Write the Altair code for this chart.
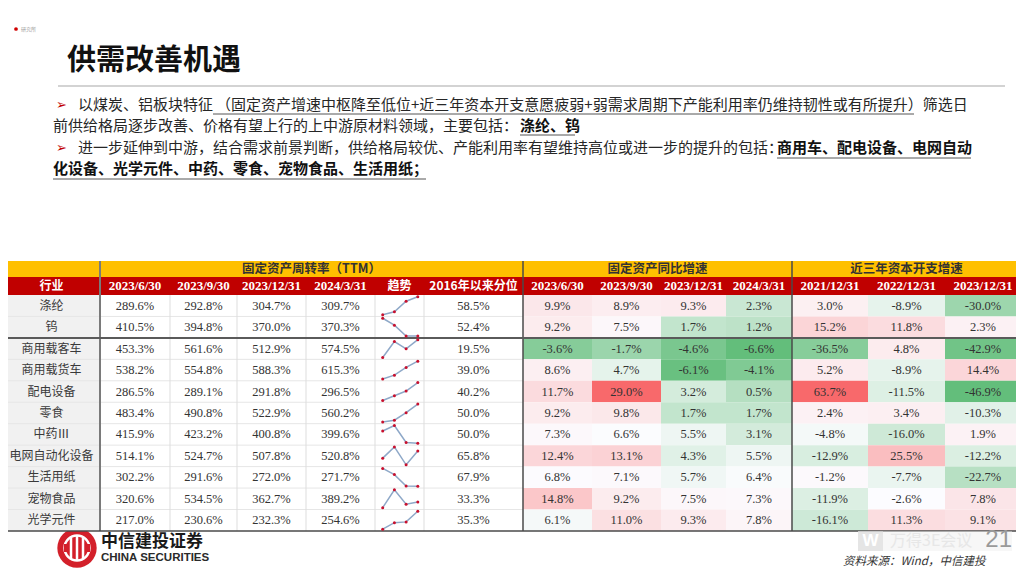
import altair as alt
import numpy as np
import pandas as pd

# ---------------- data ----------------
industries = ["涤纶", "钨", "商用载客车", "商用载货车", "配电设备", "零食",
              "中药Ⅲ", "电网自动化设备", "生活用纸", "宠物食品", "光学元件"]
turnover_dates = ["2023/6/30", "2023/9/30", "2023/12/31", "2024/3/31"]
capex_dates = ["2021/12/31", "2022/12/31", "2023/12/31"]

turnover_2023_06 = [289.6, 410.5, 453.3, 538.2, 286.5, 483.4, 415.9, 514.1, 302.2, 320.6, 217.0]
turnover_2023_09 = [292.8, 394.8, 561.6, 554.8, 289.1, 490.8, 423.2, 524.7, 291.6, 534.5, 230.6]
turnover_2023_12 = [304.7, 370.0, 512.9, 588.3, 291.8, 522.9, 400.8, 507.8, 272.0, 362.7, 232.3]
turnover_2024_03 = [309.7, 370.3, 574.5, 615.3, 296.5, 560.2, 399.6, 520.8, 271.7, 389.2, 254.6]
percentile_since_2016 = [58.5, 52.4, 19.5, 39.0, 40.2, 50.0, 50.0, 65.8, 67.9, 33.3, 35.3]

growth_2023_06 = [9.9, 9.2, -3.6, 8.6, 11.7, 9.2, 7.3, 12.4, 6.8, 14.8, 6.1]
growth_2023_09 = [8.9, 7.5, -1.7, 4.7, 29.0, 9.8, 6.6, 13.1, 7.1, 9.2, 11.0]
growth_2023_12 = [9.3, 1.7, -4.6, -6.1, 3.2, 1.7, 5.5, 4.3, 5.7, 7.5, 9.3]
growth_2024_03 = [2.3, 1.2, -6.6, -4.1, 0.5, 1.7, 3.1, 5.5, 6.4, 7.3, 7.8]

capex_2021 = [3.0, 15.2, -36.5, 5.2, 63.7, 2.4, -4.8, -12.9, -1.2, -11.9, -16.1]
capex_2022 = [-8.9, 11.8, 4.8, -8.9, -11.5, 3.4, -16.0, 25.5, -7.7, -2.6, 11.3]
capex_2023 = [-30.0, 2.3, -42.9, 14.4, -46.9, -10.3, 1.9, -12.2, -22.7, 7.8, 9.1]

title_text = "供需改善机遇"
group_titles = ["固定资产周转率（TTM）", "固定资产同比增速", "近三年资本开支增速"]
source_text = "资料来源：Wind，中信建投"

# ---------------- layout ----------------
W, H, OX, OY = 1008, 560, 8, 8
CJK = "Noto Sans CJK SC"
SERIF = "Liberation Serif"
SANS = "Liberation Sans"
RED = "#C00000"
YELLOW = "#FFC000"

COL_EDGES = [3, 100, 170, 237, 306, 375, 424, 523, 592, 661, 726, 792, 868, 945, 1021]
BAND_TOP, HEAD_TOP, BODY_TOP, PITCH = 261, 277, 295, 21.45
N = len(industries)
BODY_BOT = BODY_TOP + PITCH * N

xs = alt.Scale(domain=[OX, OX + W], nice=False, zero=False)
ys = alt.Scale(domain=[OY, OY + H], reverse=True, nice=False, zero=False)


def X(f):
    return alt.X(f, type="quantitative", scale=xs, axis=None)


def Y(f):
    return alt.Y(f, type="quantitative", scale=ys, axis=None)


def texts(rows, **kw):
    df = pd.DataFrame(rows, columns=["x", "y", "t"])
    kw.setdefault("baseline", "middle")
    return alt.Chart(df).mark_text(**kw).encode(x=X("x"), y=Y("y"), text="t:N")


def rects(rows, **kw):
    df = pd.DataFrame(rows, columns=["x0", "x1", "y0", "y1"])
    return alt.Chart(df).mark_rect(**kw).encode(x=X("x0"), x2="x1", y=Y("y0"), y2="y1")


def rules(rows, **kw):
    df = pd.DataFrame(rows, columns=["x0", "x1", "y0", "y1"])
    return alt.Chart(df).mark_rule(**kw).encode(x=X("x0"), x2="x1", y=Y("y0"), y2="y1")


def cx(j):
    return (COL_EDGES[j] + COL_EDGES[j + 1]) / 2


def row_c(i):
    return BODY_TOP + PITCH * (i + 0.5)


layers = []

# ---- top-left mark, title, separator ----
layers.append(alt.Chart(pd.DataFrame({"x": [16], "y": [29]})).mark_circle(
    size=14, color="#D00000", opacity=1).encode(x=X("x"), y=Y("y")))
layers.append(texts([(21, 28.5, "研究所")], align="left", font=CJK, fontSize=5, color="#9A9A9A"))
layers.append(texts([(67, 61, title_text)], align="left", font=CJK, fontSize=29,
                    fontWeight="bold", color="#111111"))
layers.append(rules([(58, 1005, 86, 86)], color="#C4C4C4", strokeWidth=1.5))

# ---- bullet text ----
layers.append(texts([(56, 105, "➢"), (56, 148, "➢")], align="left", font="DejaVu Sans",
                    fontSize=13, color=RED))
normal_seg = [
    (78, 105, "以煤炭、铝板块特征"),
    (216, 105, "（固定资产增速中枢降至低位+近三年资本开支意愿疲弱+弱需求周期下产能利用率仍维持韧性或有所提升）筛选日"),
    (53, 126, "前供给格局逐步改善、价格有望上行的上中游原材料领域，主要包括："),
    (78, 148, "进一步延伸到中游，结合需求前景判断，供给格局较优、产能利用率有望维持高位或进一步的提升的包括："),
]
bold_seg = [
    (520, 126, "涤纶、钨"),
    (777, 148, "商用车、配电设备、电网自动"),
    (53, 169, "化设备、光学元件、中药、零食、宠物食品、生活用纸；"),
]
layers.append(texts(normal_seg, align="left", font=CJK, fontSize=15, color="#262626"))
layers.append(texts(bold_seg, align="left", font=CJK, fontSize=15, fontWeight="bold", color="#111111"))
layers.append(rules([(213, 914, 114, 114), (520, 575, 135, 135), (777, 971, 158, 158),
                     (53, 426, 179, 179)], color="#555555", strokeWidth=1))

# ---- logo (under table) ----
layers.append(alt.Chart(pd.DataFrame({"x": [77], "y": [548]})).mark_circle(
    size=1550, color="#D3202A", opacity=1).encode(x=X("x"), y=Y("y")))
layers.append(alt.Chart(pd.DataFrame({"x": [77], "y": [548]})).mark_point(
    size=620, color="white", strokeWidth=2.5, opacity=1, shape="circle").encode(x=X("x"), y=Y("y")))
layers.append(rects([(64, 90, 544, 552)], color="#D3202A"))
layers.append(rules([(71, 71, 537, 559), (77, 77, 535, 561), (83, 83, 537, 559)],
                    color="white", strokeWidth=2.5))
layers.append(texts([(101, 542, "中信建投证券")], align="left", font=CJK, fontSize=17,
                    fontWeight="bold", color="#1A1A1A"))
layers.append(texts([(101, 558, "CHINA SECURITIES")], align="left", font=SANS, fontSize=11.5,
                    fontWeight="bold", color="#2A2A2A"))

# ---- table backgrounds ----
layers.append(rects([(COL_EDGES[0], COL_EDGES[-1], BAND_TOP, HEAD_TOP)], color=YELLOW))
layers.append(rects([(COL_EDGES[0], COL_EDGES[-1], HEAD_TOP, BODY_TOP)], color=RED))
layers.append(rects([(COL_EDGES[0], COL_EDGES[-1], BODY_TOP, BODY_BOT)], color="white"))
layers.append(rects([(COL_EDGES[0], COL_EDGES[1], BODY_TOP, BODY_BOT)], color="#F1F1F1"))

# ---- heatmaps ----
GREEN_C, WHITE_C, RED_C = "#63BE7B", "#FCFCFF", "#F8696B"


def heat_layer(cols, first_col):
    rows = []
    for j, vals in enumerate(cols):
        for i, v in enumerate(vals):
            rows.append({"x0": COL_EDGES[first_col + j], "x1": COL_EDGES[first_col + j + 1],
                         "y0": BODY_TOP + PITCH * i, "y1": BODY_TOP + PITCH * (i + 1), "v": v})
    allv = np.array([v for c in cols for v in c])
    dom = [float(allv.min()), float(np.median(allv)), float(allv.max())]
    return alt.Chart(pd.DataFrame(rows)).mark_rect().encode(
        x=X("x0"), x2="x1", y=Y("y0"), y2="y1",
        color=alt.Color("v:Q", scale=alt.Scale(domain=dom, range=[GREEN_C, WHITE_C, RED_C],
                                               interpolate="rgb"), legend=None))


growth_cols = [growth_2023_06, growth_2023_09, growth_2023_12, growth_2024_03]
capex_cols = [capex_2021, capex_2022, capex_2023]
layers.append(heat_layer(growth_cols, 7))
layers.append(heat_layer(capex_cols, 11))

# ---- grid lines ----
faint_h = [(COL_EDGES[0], COL_EDGES[7], BODY_TOP + PITCH * i, BODY_TOP + PITCH * i)
           for i in range(1, N) if i != 2]
layers.append(rules(faint_h, color="#E6E6E6", strokeWidth=1))
faint_v = [(COL_EDGES[j], COL_EDGES[j], BODY_TOP, BODY_BOT) for j in [2, 3, 4, 5, 6]]
layers.append(rules(faint_v, color="#DDDDDD", strokeWidth=1))
layers.append(rules([(COL_EDGES[1], COL_EDGES[1], BAND_TOP, BODY_BOT)], color="#7A7A7A", strokeWidth=2))
layers.append(rules([(COL_EDGES[7], COL_EDGES[7], BAND_TOP, BODY_BOT),
                     (COL_EDGES[11], COL_EDGES[11], BAND_TOP, BODY_BOT)], color="#4A4A4A", strokeWidth=1.5))
layers.append(rules([(COL_EDGES[0], COL_EDGES[-1], BODY_TOP + PITCH * 2, BODY_TOP + PITCH * 2)],
                    color="#5A5A5A", strokeWidth=2))
layers.append(rules([(COL_EDGES[0], COL_EDGES[-1], BODY_BOT, BODY_BOT)], color="#4A4A4A", strokeWidth=1.5))

# ---- header text ----
band_y = (BAND_TOP + HEAD_TOP) / 2
head_y = (HEAD_TOP + BODY_TOP) / 2
layers.append(texts([((COL_EDGES[1] + COL_EDGES[7]) / 2, band_y, group_titles[0]),
                     ((COL_EDGES[7] + COL_EDGES[11]) / 2, band_y, group_titles[1]),
                     ((COL_EDGES[11] + COL_EDGES[14]) / 2, band_y, group_titles[2])],
                    align="center", font=CJK, fontSize=12.5, fontWeight="bold", color="#333333"))
date_heads = [(cx(1 + j), head_y, d) for j, d in enumerate(turnover_dates)]
date_heads += [(cx(7 + j), head_y, d) for j, d in enumerate(turnover_dates)]
date_heads += [(cx(11 + j), head_y, d) for j, d in enumerate(capex_dates)]
layers.append(texts(date_heads, align="center", font=SERIF, fontSize=13, fontWeight="bold", color="white"))
layers.append(texts([(cx(0), head_y, "行业"), (cx(5), head_y, "趋势")],
                    align="center", font=CJK, fontSize=12, fontWeight="bold", color="white"))
layers.append(texts([(cx(6), head_y, "2016年以来分位")], align="center", font=CJK, fontSize=12,
                    fontWeight="bold", color="white"))

# ---- body text ----
layers.append(texts([(cx(0), row_c(i), name) for i, name in enumerate(industries)],
                    align="center", font=CJK, fontSize=12, color="#3A3A3A"))
num_rows = []
for j, vals in enumerate([turnover_2023_06, turnover_2023_09, turnover_2023_12, turnover_2024_03]):
    num_rows += [(cx(1 + j), row_c(i), f"{v:.1f}%") for i, v in enumerate(vals)]
num_rows += [(cx(6), row_c(i), f"{v:.1f}%") for i, v in enumerate(percentile_since_2016)]
for j, vals in enumerate(growth_cols):
    num_rows += [(cx(7 + j), row_c(i), f"{v:.1f}%") for i, v in enumerate(vals)]
for j, vals in enumerate(capex_cols):
    num_rows += [(cx(11 + j), row_c(i), f"{v:.1f}%") for i, v in enumerate(vals)]
layers.append(texts(num_rows, align="center", font=SERIF, fontSize=12.5, color="#333333"))

# ---- sparklines ----
spark = []
for j, vals in enumerate([turnover_2023_06, turnover_2023_09, turnover_2023_12, turnover_2024_03]):
    for i, v in enumerate(vals):
        spark.append({"industry": industries[i], "r": i, "t": j, "v": v})
SX0, SDX, SPAD = 382.7, 11.7, 1.8
spark_base = alt.Chart(pd.DataFrame(spark)).transform_joinaggregate(
    vmin="min(v)", vmax="max(v)", groupby=["industry"]
).transform_calculate(
    sx=f"{SX0} + datum.t * {SDX}",
    sy=f"{BODY_TOP} + datum.r * {PITCH} + {SPAD} + (1 - (datum.v - datum.vmin) / (datum.vmax - datum.vmin)) * ({PITCH} - 2 * {SPAD})",
)
layers.append(spark_base.mark_line(color="#8EA8C8", strokeWidth=1.5).encode(
    x=X("sx"), y=Y("sy"), detail="industry:N", order="t:Q"))
layers.append(spark_base.mark_circle(color="#C8102E", size=9, opacity=1).encode(
    x=X("sx"), y=Y("sy")))

# ---- footer ----
layers.append(rects([(858, 1012, 531, 551)], color="#EDEDED", opacity=0.45))
layers.append(rects([(858, 883, 531, 551)], color="#D8D8D8", opacity=0.6))
layers.append(texts([(870.5, 541, "W")], align="center", font=SANS, fontSize=17, fontWeight="bold", color="white"))
layers.append(texts([(890, 541, "万得3E会议")], align="left", font=CJK, fontSize=16, color="#E4E4E4", opacity=0.8))
layers.append(texts([(1012, 540, "21")], align="right", font=SANS, fontSize=24, color="#9A9A9A"))
layers.append(texts([(843, 562, source_text)], align="left", font=CJK, fontSize=11.5,
                    fontStyle="italic", color="#333333"))

chart = alt.layer(*layers).properties(
    width=W, height=H, autosize=alt.AutoSizeParams(type="none"), padding=0, background="white"
).resolve_scale(color="independent").configure_view(stroke=None)

chart.save("out.html", embed_options={"renderer": "svg", "actions": False})
